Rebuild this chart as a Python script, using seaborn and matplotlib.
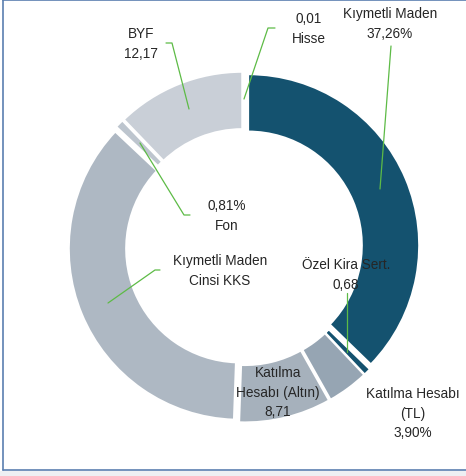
import matplotlib
matplotlib.use("Agg")
import matplotlib.pyplot as plt
import seaborn as sns
from matplotlib.patches import Rectangle

categories = ["Kıymetli Maden", "Özel Kira Sert.", "Katılma Hesabı (TL)",
              "Katılma Hesabı (Altın)", "Kıymetli Maden Cinsi KKS", "Fon", "BYF", "Hisse"]
values = [37.26, 0.68, 3.90, 8.71, 36.46, 0.81, 12.17, 0.01]
colors = ["#14526F", "#14526F", "#96A5B3", "#A6B1BC", "#AEB8C3", "#BDC5CE", "#C9CFD7", "#C9CFD7"]
label_texts = ["Kıymetli Maden\n37,26%", "Özel Kira Sert.\n0,68", "Katılma Hesabı\n(TL)\n3,90%",
               "Katılma\nHesabı (Altın)\n8,71", "Kıymetli Maden\nCinsi KKS", "0,81%\nFon",
               "BYF\n12,17", "0,01\nHisse"]

sns.set_theme(style="white")
plt.rcParams["font.family"] = ["Liberation Sans", "DejaVu Sans"]

W, H = 466, 477
fig = plt.figure(figsize=(W / 100, H / 100), dpi=100)
fig.patch.set_facecolor("white")
ax = fig.add_axes([0, 0, 1, 1])

def Y(y):
    return H - y

cx, cy, R = 244, 248, 171
ax.pie(values, colors=colors, startangle=90, counterclock=False,
       center=(cx, Y(cy)), radius=R, explode=[4.5] * len(values),
       wedgeprops=dict(width=R * 0.335, edgecolor="white", linewidth=1.4),
       frame=True)
ax.set_xlim(0, W)
ax.set_ylim(0, H)
ax.set_aspect("equal")
ax.axis("off")

txt_color = "#262626"
fs = 9.8
label_pos = [(390, 24), (346, 275), (413, 414), (278, 393), (220, 271), (227, 216), (141, 44), (309, 29)]
for t, (x, y) in zip(label_texts, label_pos):
    ax.text(x, Y(y), t, ha="center", va="center", fontsize=fs, color=txt_color, linespacing=1.5)

green = "#5DBB46"
leaders = [
    [(391, 47), (380, 190)],
    [(347, 294), (347, 353)],
    [(190, 216), (184, 216), (140, 144)],
    [(160, 271), (155, 271), (108, 304)],
    [(166, 44), (172, 44), (189, 110)],
    [(275, 29), (268, 29), (244, 100)],
]
for pts in leaders:
    xs = [p[0] for p in pts]
    ys = [Y(p[1]) for p in pts]
    ax.plot(xs, ys, color=green, linewidth=0.9)

ax.add_patch(Rectangle((0, 0), W, Y(472), facecolor="#EEF0F3", edgecolor="none"))
border = "#5B7FB0"
ax.plot([3, 3], [Y(1), Y(471)], color=border, linewidth=1.2)
ax.plot([3, W], [Y(1), Y(1)], color=border, linewidth=1.2)
ax.plot([3, W], [Y(471), Y(471)], color=border, linewidth=1.2)

fig.savefig("out.png", dpi=100, facecolor="white")
